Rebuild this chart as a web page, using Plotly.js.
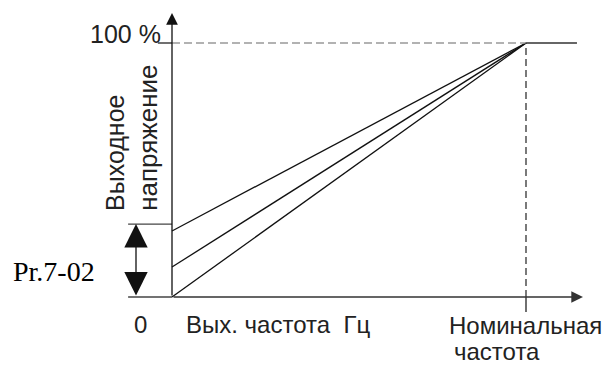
<!DOCTYPE html>
<html>
<head>
<meta charset="utf-8">
<script src="https://cdn.plot.ly/plotly-3.0.1.min.js"></script>
<style>html,body{margin:0;padding:0;background:#fff;}#chart{width:610px;height:365px;}</style>
</head>
<body>
<div id="chart"></div>
<script>
// ---- data (relative units: frequency 0..1 = rated freq, voltage in %) ----
const boostLevels = [0, 11.8, 26];      // torque boost at 0 Hz, %
const maxBoost = 28.7;                  // Pr.7-02 range top, %
const ratedFreq = 1;                    // nominal frequency
const ratedVolt = 100;                  // 100 %
const flatEnd = 1.144;                  // horizontal line end beyond rated freq
const xAxisEnd = 1.161;
const yAxisEnd = 111.8;
const markerLeft = -0.124;
const arrowX = -0.1017;
const tickLeft = -0.04;
const tickBelow = -5.9;

const labelVolt = ["Выходное", "напряжение"];
const labelFreq = "Вых. частота  Гц";
const labelRated = ["Номинальная", "частота"];
const labelPct = "100 %";
const labelZero = "0";
const labelParam = "Pr.7-02";

const lineColor = "#111";
const traces = [];

// V/f lines
boostLevels.forEach(b => {
  traces.push({x: [0, ratedFreq], y: [b, ratedVolt], mode: "lines",
    line: {color: lineColor, width: 1.3}, hoverinfo: "skip"});
});
// flat part
traces.push({x: [ratedFreq, flatEnd], y: [ratedVolt, ratedVolt], mode: "lines",
  line: {color: "#333", width: 1.3}, hoverinfo: "skip"});
// dashed 100% line
traces.push({x: [0, ratedFreq], y: [ratedVolt, ratedVolt], mode: "lines",
  line: {color: "#999", width: 1.3, dash: "8px,4px"}, hoverinfo: "skip"});
// vertical dashed at rated freq
traces.push({x: [ratedFreq, ratedFreq], y: [0, ratedVolt], mode: "lines",
  line: {color: "#333", width: 1.3, dash: "7px,4px"}, hoverinfo: "skip"});
// tick below x axis
traces.push({x: [ratedFreq, ratedFreq], y: [tickBelow, 0], mode: "lines",
  line: {color: "#222", width: 1.3}, hoverinfo: "skip"});
// 100% tick left of axis
traces.push({x: [tickLeft, 0], y: [ratedVolt, ratedVolt], mode: "lines",
  line: {color: "#222", width: 1.3}, hoverinfo: "skip"});
// Pr.7-02 range markers
traces.push({x: [markerLeft, 0], y: [maxBoost, maxBoost], mode: "lines",
  line: {color: "#444", width: 1.3}, hoverinfo: "skip"});
traces.push({x: [markerLeft, 0], y: [0, 0], mode: "lines",
  line: {color: "#444", width: 1.3}, hoverinfo: "skip"});

const sans = "Liberation Sans, Arial, sans-serif";
const txt = "#222";
const annotations = [
  // y axis arrow
  {x: 0, y: yAxisEnd, ax: 0, ay: 0, axref: "x", ayref: "y", xref: "x", yref: "y",
   text: "", showarrow: true, arrowhead: 2, arrowsize: 1.8, arrowwidth: 1.3, arrowcolor: "#111", standoff: 0},
  // x axis arrow
  {x: xAxisEnd, y: 0, ax: 0, ay: 0, axref: "x", ayref: "y", xref: "x", yref: "y",
   text: "", showarrow: true, arrowhead: 2, arrowsize: 1.8, arrowwidth: 1.3, arrowcolor: "#333", standoff: 0},
  // double arrow for Pr.7-02
  {x: arrowX, y: maxBoost, ax: arrowX, ay: 0, axref: "x", ayref: "y", xref: "x", yref: "y",
   text: "", showarrow: true, arrowside: "end+start", arrowhead: 2, startarrowhead: 2,
   arrowsize: 3.6, startarrowsize: 3.6, arrowwidth: 1.3, arrowcolor: "#111", standoff: 0, startstandoff: 0},
  // texts
  {x: -0.025, y: 103.6, xref: "x", yref: "y", text: labelPct, showarrow: false,
   xanchor: "right", yanchor: "middle", font: {family: sans, size: 25, color: txt}},
  {x: -0.161, y: 33.1, xref: "x", yref: "y", text: labelVolt[0], showarrow: false, textangle: -90,
   xanchor: "center", yanchor: "bottom", font: {family: sans, size: 25, color: txt}},
  {x: -0.068, y: 33.1, xref: "x", yref: "y", text: labelVolt[1], showarrow: false, textangle: -90,
   xanchor: "center", yanchor: "bottom", font: {family: sans, size: 26, color: txt}},
  {x: -0.455, y: 10.2, xref: "x", yref: "y", text: labelParam, showarrow: false,
   xanchor: "left", yanchor: "middle", font: {family: "Liberation Serif, Times New Roman, serif", size: 28, color: "#000"}},
  {x: -0.090, y: -11.0, xref: "x", yref: "y", text: labelZero, showarrow: false,
   xanchor: "center", yanchor: "middle", font: {family: sans, size: 24, color: txt}},
  {x: 0.035, y: -11.0, xref: "x", yref: "y", text: labelFreq, showarrow: false,
   xanchor: "left", yanchor: "middle", font: {family: sans, size: 24, color: txt}},
  {x: 0.778, y: -11.4, xref: "x", yref: "y", text: labelRated[0], showarrow: false,
   xanchor: "left", yanchor: "middle", font: {family: sans, size: 24, color: txt}},
  {x: 0.792, y: -21.6, xref: "x", yref: "y", text: labelRated[1], showarrow: false,
   xanchor: "left", yanchor: "middle", font: {family: sans, size: 24, color: txt}}
];

const layout = {
  width: 610, height: 365,
  margin: {l: 0, r: 0, t: 0, b: 0},
  paper_bgcolor: "#fff", plot_bgcolor: "#fff",
  showlegend: false,
  xaxis: {range: [-0.4859, 1.2373], visible: false, fixedrange: true},
  yaxis: {range: [-26.77, 116.93], visible: false, fixedrange: true},
  annotations: annotations
};

Plotly.newPlot("chart", traces, layout, {staticPlot: true, displayModeBar: false});
</script>
</body>
</html>
